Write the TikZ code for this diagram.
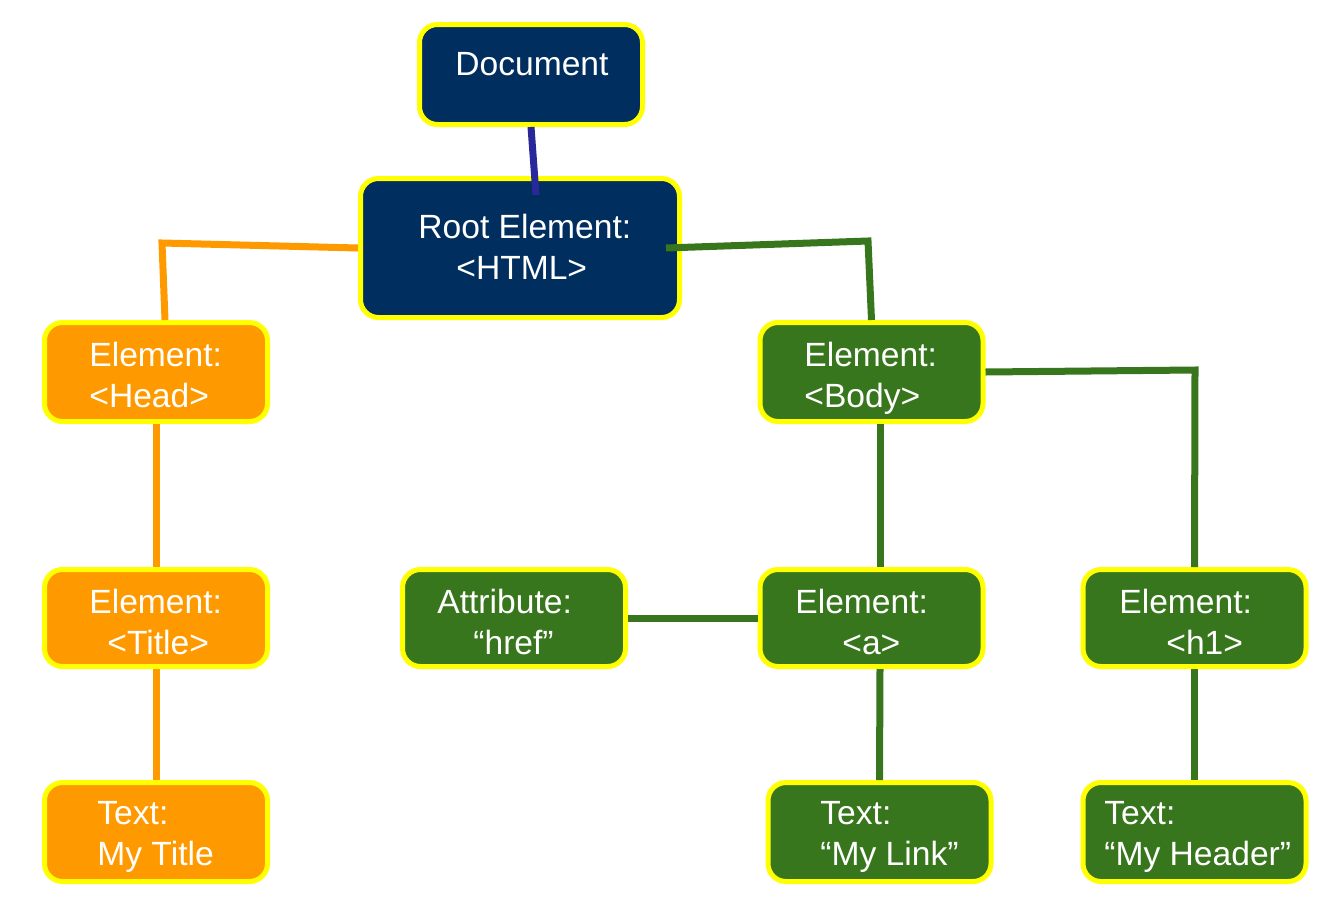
\documentclass[tikz,border=0pt]{standalone}
\usepackage{fontspec}
\setmainfont{Liberation Sans}
\definecolor{navy}{HTML}{002E5E}
\definecolor{orng}{HTML}{FF9900}
\definecolor{grn}{HTML}{38761D}
\definecolor{lnblue}{HTML}{28289A}
\definecolor{yel}{HTML}{FFFF00}
\begin{document}
\begin{tikzpicture}[x=0.5pt,y=-0.5pt,
  box/.style={draw=yel, line width=2.5pt, rounded corners=9pt, minimum width=111.5pt, minimum height=49.5pt, inner sep=0pt},
  navybox/.style={box, fill=navy},
  orbox/.style={box, fill=orng},
  grbox/.style={box, fill=grn},
  lbl/.style={text=white, font=\fontsize{16.8}{20.25}\selectfont, align=left, anchor=north west, inner sep=0pt},
  conn/.style={line width=3.5pt}]
\useasboundingbox (0,0) rectangle (1338,916);
% boxes
\node[navybox, minimum height=50pt] (doc) at (531,74.5) {};
\node[navybox, minimum width=159.5pt, minimum height=69.5pt] (root) at (520,248) {};
\node[orbox] (head) at (156,372) {};
\node[grbox] (body) at (871.5,372) {};
\node[orbox, minimum height=48.5pt] (title) at (156,618) {};
\node[grbox, minimum height=48.5pt] (attr) at (514,618) {};
\node[grbox, minimum height=48.5pt] (a) at (871.5,618) {};
\node[grbox, minimum height=48.5pt] (h1) at (1194.5,618) {};
\node[orbox] (mytitle) at (156,832) {};
\node[grbox] (link) at (879.5,832) {};
\node[grbox] (header) at (1194.5,832) {};
% connector coordinates
\coordinate (cDR) at (536,195);
\coordinate (cHL) at (162,243);
\coordinate (cBL) at (868,241);
\coordinate (cH1) at (1195,370);
% connectors
\draw[conn, lnblue] (doc.south) -- (cDR);
\draw[conn, orng] (root.west) -- (cHL) -- ([xshift=4.5pt]head.north);
\draw[conn, grn] ([xshift=-8pt]root.east) -- (cBL) -- (body.north);
\draw[conn, grn] (body.east) -- (cH1) -- (h1.north);
\draw[conn, grn] ([xshift=4.25pt]body.south) -- ([xshift=4.25pt]a.north);
\draw[conn, grn] (attr.east) -- (a.west);
\draw[conn, grn] ([xshift=4.25pt]a.south) -- (link.north);
\draw[conn, grn] (h1.south) -- (header.north);
\draw[conn, orng] (head.south) -- (title.north);
\draw[conn, orng] (title.south) -- (mytitle.north);
% labels
\node[lbl] (docL) at (455,52) {Document};
\node[lbl] (rootL) at (418,214) {Root Element:\\\hspace*{19pt}<HTML>};
\node[lbl] (headL) at (89,342) {Element:\\<Head>};
\node[lbl] (bodyL) at (804,342) {Element:\\<Body>};
\node[lbl] (titleL) at (89,589) {Element:\\\hspace*{9pt}<Title>};
\node[lbl] (attrL) at (437,589) {Attribute:\\\hspace*{18pt}“href”};
\node[lbl] (aL) at (795,589) {Element:\\\hspace*{23.5pt}<a>};
\node[lbl] (h1L) at (1119,589) {Element:\\\hspace*{23.5pt}<h1>};
\node[lbl] (mytitleL) at (97,801) {Text:\\My Title};
\node[lbl] (linkL) at (820,801) {Text:\\“My Link”};
\node[lbl] (headerL) at (1104,801) {Text:\\“My Header”};
\end{tikzpicture}
\end{document}
